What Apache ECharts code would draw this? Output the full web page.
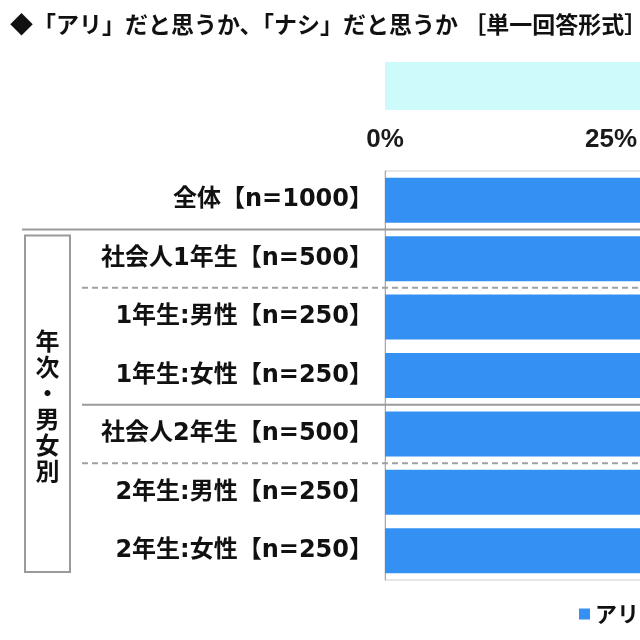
<!DOCTYPE html>
<html>
<head>
<meta charset="utf-8">
<script src="https://cdn.jsdelivr.net/npm/echarts@6/dist/echarts.min.js"></script>
<style>
  html, body { margin: 0; padding: 0; background: #fff; }
  #chart { width: 640px; height: 640px; }
</style>
</head>
<body>
<div id="chart"></div>
<script>
const categories = ['全体【n=1000】', '社会人1年生【n=500】', '1年生:男性【n=250】', '1年生:女性【n=250】', '社会人2年生【n=500】', '2年生:男性【n=250】', '2年生:女性【n=250】'];
const ariValues = [61.2, 60.4, 58.8, 62.0, 62.0, 60.4, 63.6];
const nashiValues = [38.8, 39.6, 41.2, 38.0, 38.0, 39.6, 36.4];
const xTicks = [0, 25, 50, 75, 100];

const latinCjk = "'DejaVu Sans', 'Noto Sans CJK JP', sans-serif";
const myChart = echarts.init(document.getElementById('chart'));

const option = {
  animation: false,
  textStyle: { fontFamily: "'Noto Sans CJK JP', sans-serif" },
  title: {
    text: '◆「アリ」だと思うか、「ナシ」だと思うか ［単一回答形式］',
    left: 5,
    top: 8,
    textStyle: { fontSize: 23, fontWeight: 'bold', color: '#111', fontFamily: "'Noto Sans CJK JP', sans-serif" }
  },
  legend: {
    data: ['アリ', 'ナシ'],
    left: 574,
    top: 598,
    icon: 'rect',
    itemWidth: 11,
    itemHeight: 11,
    itemGap: 30,
    textStyle: { fontSize: 22, fontWeight: 'bold', color: '#111' }
  },
  grid: {
    left: 385,
    top: 171,
    width: 904,
    height: 409,
    outerBoundsMode: 'none',
    containLabel: false,
    show: true,
    borderColor: '#cfcfcf',
    borderWidth: 1
  },
  xAxis: {
    type: 'value',
    position: 'top',
    min: 0,
    max: 100,
    interval: 25,
    splitLine: { show: false },
    axisLine: { show: false },
    axisTick: { show: false },
    axisLabel: {
      formatter: v => xTicks.includes(v) ? v + '%' : '',
      fontSize: 26,
      fontWeight: 'bold',
      color: '#1a1a1a',
      fontFamily: "'Liberation Sans', Arial, sans-serif",
      margin: 18
    }
  },
  yAxis: {
    type: 'category',
    inverse: true,
    data: categories,
    axisTick: { show: false },
    axisLine: { show: true, lineStyle: { color: '#aaa', width: 1 } },
    axisLabel: {
      fontSize: 24,
      fontWeight: 'bold',
      color: '#111',
      margin: 12,
      fontFamily: latinCjk
    }
  },
  series: [
    {
      name: 'アリ',
      type: 'bar',
      stack: 'total',
      barCategoryGap: '23%',
      data: ariValues,
      itemStyle: { color: '#3590f3' }
    },
    {
      name: 'ナシ',
      type: 'bar',
      stack: 'total',
      barCategoryGap: '23%',
      data: nashiValues,
      itemStyle: { color: '#f0a040' }
    }
  ]
};

myChart.setOption(option);

// separators and group box, placed from the category scale
const yc = categories.map(c => myChart.convertToPixel({ yAxisIndex: 0 }, c));
const step = yc[1] - yc[0];
const between = i => (yc[i] + yc[i + 1]) / 2;
const lineSolid = { stroke: '#9a9a9a', lineWidth: 2 };
const lineDash = { stroke: '#a0a0a0', lineWidth: 2, lineDash: [6, 4] };
const gTop = yc[1] - step / 2 + 6;
const gBottom = yc[6] + step / 2 - 8;

myChart.setOption({
  graphic: [
    { type: 'rect', shape: { x: 385, y: 62, width: 300, height: 48 }, style: { fill: '#cdfbfc' } },
    { type: 'line', shape: { x1: 22, y1: between(0), x2: 640, y2: between(0) }, style: lineSolid, z: 10 },
    { type: 'line', shape: { x1: 82, y1: between(1), x2: 640, y2: between(1) }, style: lineDash, z: 10 },
    { type: 'line', shape: { x1: 82, y1: between(3), x2: 640, y2: between(3) }, style: lineSolid, z: 10 },
    { type: 'line', shape: { x1: 82, y1: between(4), x2: 640, y2: between(4) }, style: lineDash, z: 10 },
    { type: 'rect', shape: { x: 25, y: gTop, width: 45, height: gBottom - gTop }, style: { fill: 'none', stroke: '#9a9a9a', lineWidth: 2 } },
    {
      type: 'text',
      x: 47.5,
      y: (gTop + gBottom) / 2 + 2,
      style: {
        text: '年\n次\n・\n男\n女\n別',
        fontSize: 24,
        fontWeight: 'bold',
        lineHeight: 26,
        fill: '#111',
        align: 'center',
        verticalAlign: 'middle',
        fontFamily: "'Noto Sans CJK JP', sans-serif"
      }
    }
  ]
});

window.addEventListener('resize', function () {
  myChart.resize();
});
</script>
</body>
</html>
